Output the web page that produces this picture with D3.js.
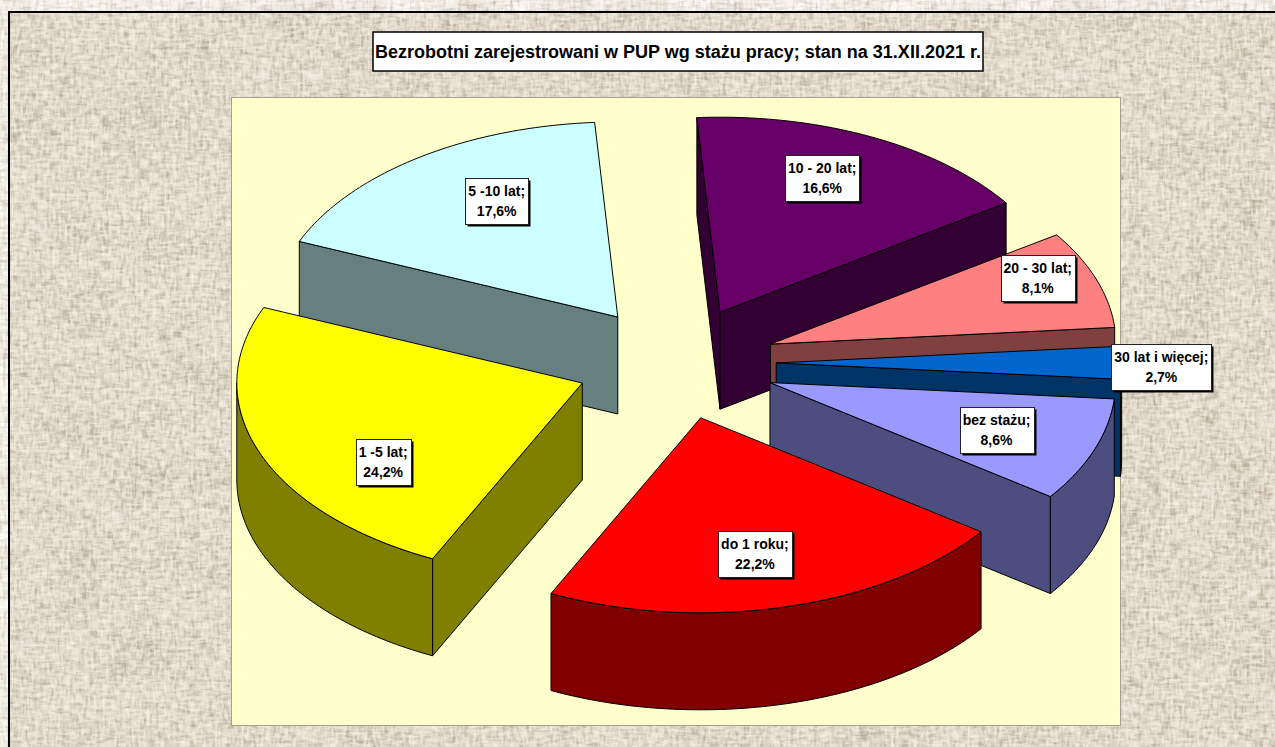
<!DOCTYPE html>
<html lang="pl">
<head>
<meta charset="utf-8">
<title>Bezrobotni zarejestrowani w PUP wg stażu pracy</title>
<script src="https://cdn.jsdelivr.net/npm/d3@7/dist/d3.min.js"></script>
<style>
html,body{margin:0;padding:0;background:#fff;overflow:hidden}
svg{display:block}
text{font-family:"Liberation Sans",Arial,sans-serif;font-weight:700;fill:#000}
</style>
</head>
<body>
<svg id="chart" width="1275" height="747"></svg>
<script>
const titleText = "Bezrobotni zarejestrowani w PUP wg stażu pracy; stan na 31.XII.2021 r.";
const categories = ["bez stażu", "do 1 roku", "1 -5 lat", "5 -10 lat", "10 - 20 lat", "20 - 30 lat", "30 lat i więcej"];
const shares = [8.6, 22.2, 24.2, 17.6, 16.6, 8.1, 2.7];
const topColors = ["#9999FF", "#FF0000", "#FFFF00", "#CCFFFF", "#660066", "#FF8080", "#0066CC"];
const wallColors = ["#4D4D80", "#800000", "#808000", "#668080", "#330033", "#804040", "#003366"];
// label placement: distance from slice apex (in radii) and angular nudge from the slice's mid angle (degrees)
const labelRadius = [0.70, 0.715, 0.705, 0.69, 0.75, 0.845, 1.115];
const labelNudge = [0.2, 1.6, -14.4, 5.0, -2.8, -4.2, 1.1];

const W = 1275, H = 747;
const svg = d3.select("#chart");

/* ---------- background: woven burlap ---------- */
const defs = svg.append("defs");
function noiseFilter(id, freq, seed, rgb, gain, bias, blur) {
  const f = defs.append("filter").attr("id", id)
    .attr("filterUnits", "userSpaceOnUse")
    .attr("x", 0).attr("y", 0).attr("width", W).attr("height", H)
    .attr("color-interpolation-filters", "sRGB");
  f.append("feTurbulence").attr("type", "fractalNoise")
    .attr("baseFrequency", freq).attr("numOctaves", 2).attr("seed", seed);
  f.append("feColorMatrix").attr("type", "matrix").attr("values",
    `0 0 0 0 ${rgb[0]}  0 0 0 0 ${rgb[1]}  0 0 0 0 ${rgb[2]}  ${gain} 0 0 0 ${bias}`);
  f.append("feGaussianBlur").attr("stdDeviation", blur);
}
const darkTone = [0.62, 0.56, 0.47], lightTone = [0.97, 0.95, 0.90];
noiseFilter("wDarkV", "0.30 0.07", 3, darkTone, 1.2, -0.52, 0.5);
noiseFilter("wDarkH", "0.07 0.30", 8, darkTone, 1.2, -0.52, 0.5);
noiseFilter("wLightV", "0.34 0.10", 11, lightTone, 1.7, -0.62, 0.5);
noiseFilter("wLightH", "0.10 0.34", 17, lightTone, 1.7, -0.62, 0.5);
noiseFilter("wMottle", "0.018 0.022", 23, darkTone, 0.8, -0.34, 2);

const bg = svg.append("g");
const bx = 9, by = 12;
bg.append("rect").attr("x", bx).attr("y", by).attr("width", W - bx).attr("height", H - by).attr("fill", "#E0D8CA");
["wMottle", "wDarkV", "wDarkH", "wLightV", "wLightH"].forEach(id => {
  bg.append("rect").attr("x", bx).attr("y", by).attr("width", W - bx).attr("height", H - by)
    .attr("filter", `url(#${id})`);
});
bg.append("path").attr("d", `M${bx},${H}V${by}H${W}`)
  .attr("fill", "none").attr("stroke", "#000").attr("stroke-width", 2);

/* ---------- plot area ---------- */
svg.append("rect").attr("x", 231.5).attr("y", 97.5).attr("width", 889).attr("height", 628)
  .attr("fill", "#FFFFCC").attr("stroke", "#A5A294").attr("stroke-width", 1);

/* ---------- 3-D pie ---------- */
const cx = 676, cy = 363, rx = 345.5, ry = 195, depth = 97, explode = 0.29;
const sx = d3.scaleLinear().domain([-1, 1]).range([cx - rx, cx + rx]);
const sy = d3.scaleLinear().domain([-1, 1]).range([cy - ry, cy + ry]);

const pie = d3.pie().sort(null).value(d => d.share)
  .startAngle((94.8) * Math.PI / 180)
  .endAngle((94.8 + 360) * Math.PI / 180);

const rows = categories.map((name, i) => ({
  name, share: shares[i], top: topColors[i], wall: wallColors[i],
  labelR: labelRadius[i], labelN: labelNudge[i]
}));

// screen angle: 0 = east, growing clockwise on screen
const arcs = pie(rows).map(a => {
  const a0 = a.startAngle - Math.PI / 2, a1 = a.endAngle - Math.PI / 2, mid = (a0 + a1) / 2;
  return { d: a.data, a0, a1, mid, ax: explode * Math.cos(mid), ay: explode * Math.sin(mid) };
});

const line = d3.line().x(p => sx(p[0])).y(p => sy(p[1]) + (p[2] || 0));
const rim = (s, t, dz) => [s.ax + Math.cos(t), s.ay + Math.sin(t), dz || 0];
const arcPts = (s, t0, t1, dz) => {
  const n = Math.max(2, Math.ceil((t1 - t0) / (Math.PI / 180)));
  return d3.range(n + 1).map(i => rim(s, t0 + (t1 - t0) * i / n, dz));
};
const tau = 2 * Math.PI;

function visibleRimRanges(s) {
  const out = [];
  for (let k = -1; k <= 2; k++) {
    const lo = Math.max(s.a0, k * tau), hi = Math.min(s.a1, k * tau + Math.PI);
    if (hi > lo) out.push([lo, hi]);
  }
  return out;
}

const order = arcs.slice().sort((a, b) => Math.sin(a.mid) - Math.sin(b.mid));
const pieG = svg.append("g").attr("stroke", "#000").attr("stroke-width", 1).attr("stroke-linejoin", "round");

order.forEach(s => {
  const g = pieG.append("g").attr("class", "slice");
  const apex = [s.ax, s.ay, 0], apexB = [s.ax, s.ay, depth];
  if (Math.cos(s.a0) < 0) {
    g.append("path").attr("fill", s.d.wall)
      .attr("d", line([apex, rim(s, s.a0), rim(s, s.a0, depth), apexB]) + "Z");
  }
  if (Math.cos(s.a1) > 0) {
    g.append("path").attr("fill", s.d.wall)
      .attr("d", line([apex, rim(s, s.a1), rim(s, s.a1, depth), apexB]) + "Z");
  }
  visibleRimRanges(s).forEach(([lo, hi]) => {
    const upper = arcPts(s, lo, hi, 0), lower = arcPts(s, lo, hi, depth).reverse();
    g.append("path").attr("fill", s.d.wall).attr("d", line(upper.concat(lower)) + "Z");
  });
  g.append("path").attr("fill", s.d.top)
    .attr("d", line([apex].concat(arcPts(s, s.a0, s.a1, 0))) + "Z");
});

/* ---------- data labels ---------- */
const pct = d3.format(".1f");
const labelG = svg.append("g").attr("font-size", 14);
arcs.forEach(s => {
  const t = s.mid + s.d.labelN * Math.PI / 180;
  const lx = sx(s.ax + s.d.labelR * Math.cos(t));
  const ly = sy(s.ay + s.d.labelR * Math.sin(t));
  const g = labelG.append("g").attr("class", "label");
  const shadow = g.append("rect").attr("fill", "#000");
  const box = g.append("rect").attr("fill", "#fff").attr("stroke", "#222").attr("stroke-width", 1);
  const text = g.append("text").attr("text-anchor", "middle");
  text.append("tspan").attr("x", lx).attr("y", ly - 5).text(s.d.name + ";");
  text.append("tspan").attr("x", lx).attr("y", ly + 15).text(pct(s.d.share).replace(".", ",") + "%");
  const b = text.node().getBBox();
  const w = Math.round(b.width + 6), h = 46;
  const x0 = Math.round(lx - w / 2) + 0.5, y0 = Math.round(ly - h / 2) + 0.5;
  shadow.attr("x", x0 + 2).attr("y", y0 + 2).attr("width", w).attr("height", h);
  box.attr("x", x0).attr("y", y0).attr("width", w).attr("height", h);
});

/* ---------- title ---------- */
const titleG = svg.append("g");
const tBox = titleG.append("rect").attr("fill", "#fff").attr("stroke", "#000").attr("stroke-width", 1.5);
const tText = titleG.append("text").attr("font-size", 18).attr("text-anchor", "middle")
  .attr("x", 678).attr("y", 58).text(titleText);
tBox.attr("x", 373).attr("y", 32).attr("width", 610).attr("height", 39);
</script>
</body>
</html>
